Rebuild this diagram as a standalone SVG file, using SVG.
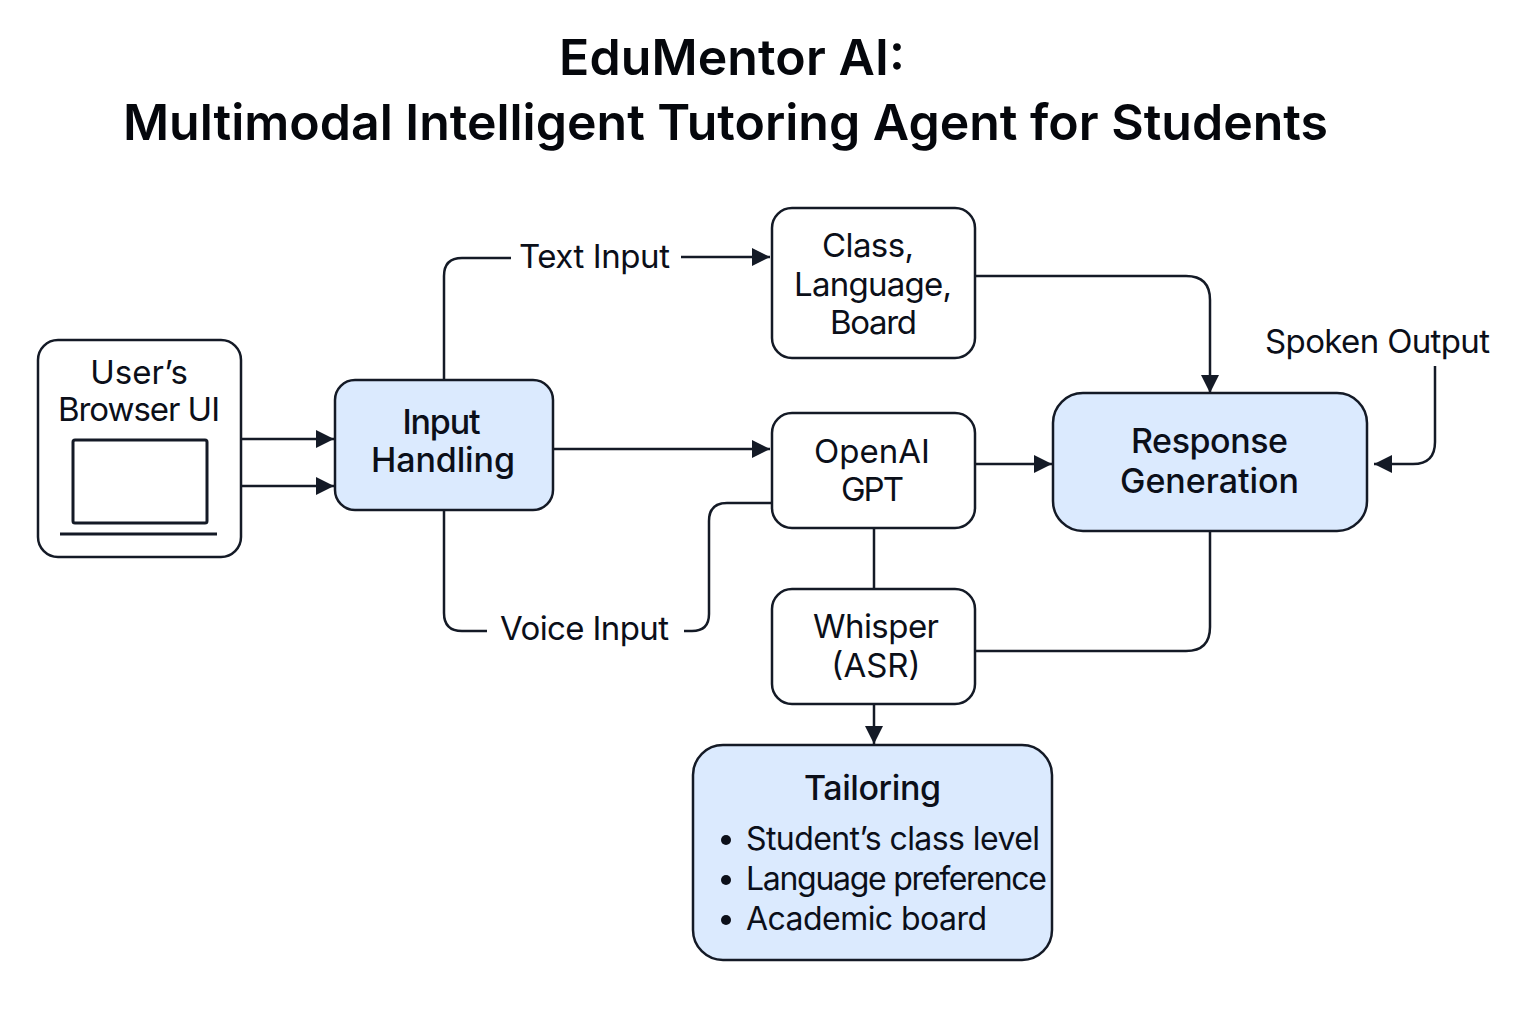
<svg xmlns="http://www.w3.org/2000/svg" width="1536" height="1024" viewBox="0 0 1536 1024">
<style>
text{font-family:Inter,"Liberation Sans",sans-serif;fill:#0b0f19;text-anchor:middle;font-size:33px;stroke:none}
.t{font-size:50px;font-weight:600;fill:#05070c}
.b{font-weight:500;font-size:34px}
.l{text-anchor:start;font-size:32px}
.n{fill:#fff;stroke:#141a26;stroke-width:2.5}
.h{fill:#dbeafe;stroke:#141a26;stroke-width:2.5}
.c{fill:none;stroke:#141a26;stroke-width:2.5}
.a{marker-end:url(#m)}
</style>
<defs><marker id="m" markerUnits="userSpaceOnUse" markerWidth="20" markerHeight="20" refX="18" refY="9" orient="auto"><path d="M0 0L18 9L0 18Z" fill="#141a26"/></marker></defs>
<rect width="1536" height="1024" fill="#fff"/>
<g id="title"><text class="t" x="732" y="75" textLength="346">EduMentor AI:</text><text class="t" x="725.5" y="140" textLength="1205">Multimodal Intelligent Tutoring Agent for Students</text></g>
<g id="connectors">
<path class="c a" d="M242 439H334"/><path class="c a" d="M242 486H334"/>
<path class="c" d="M444 380V276Q444 258 462 258H511"/><path class="c a" d="M681 257H770"/>
<path class="c a" d="M975 276H1186Q1210 276 1210 300V393"/>
<path class="c a" d="M553 449H770"/><path class="c a" d="M975 464H1052"/>
<path class="c a" d="M1435 366V442Q1435 464 1413 464H1374"/>
<path class="c" d="M444 510V613Q444 631 462 631H487"/>
<path class="c" d="M684 631H692Q709 631 709 614V521Q709 503 727 503H772"/>
<path class="c" d="M874 528V589"/><path class="c" d="M975 651H1186Q1210 651 1210 627V531"/>
<path class="c a" d="M874 704V744"/>
</g>
<g id="browser"><rect class="n" x="38" y="340" width="203" height="217" rx="20"/><text x="139" y="384">User’s</text><text x="139" y="421" textLength="162">Browser UI</text><rect x="73" y="440" width="134" height="83" rx="2" fill="#fff" stroke="#141a26" stroke-width="3"/><path class="c" d="M60 534H217" style="stroke-width:3"/></g>
<g id="input"><rect class="h" x="335" y="380" width="218" height="130" rx="20"/><text class="b" x="441.500" y="434" textLength="78">Input</text><text class="b" x="443" y="472" textLength="144">Handling</text></g>
<g id="class"><rect class="n" x="772" y="208" width="203" height="150" rx="20"/><text x="868" y="257" textLength="92">Class,</text><text x="873" y="296" textLength="158">Language,</text><text x="873.500" y="334" textLength="87">Board</text></g>
<g id="gpt"><rect class="n" x="772" y="413" width="203" height="115" rx="20"/><text x="872" y="463">OpenAI</text><text x="872.500" y="501" textLength="63">GPT</text></g>
<g id="whisper"><rect class="n" x="772" y="589" width="203" height="115" rx="20"/><text x="876" y="638" textLength="126">Whisper</text><text x="876" y="677">(ASR)</text></g>
<g id="response"><rect class="h" x="1053" y="393" width="314" height="138" rx="30"/><text class="b" x="1209.500" y="453" textLength="157">Response</text><text class="b" x="1209.500" y="493" textLength="179">Generation</text></g>
<g id="tailoring"><rect class="h" x="693" y="745" width="359" height="215" rx="30"/><text class="b" x="872.500" y="800" textLength="137">Tailoring</text>
<circle cx="726" cy="840" r="5" fill="#0b0f19"/><circle cx="726" cy="880" r="5" fill="#0b0f19"/><circle cx="726" cy="920" r="5" fill="#0b0f19"/>
<text class="l" x="746" y="850" textLength="294">Student’s class level</text><text class="l" x="746" y="890" textLength="301">Language preference</text><text class="l" x="746" y="930" textLength="241">Academic board</text></g>
<g id="labels"><text x="594.500" y="268" textLength="151">Text Input</text><text x="584.500" y="640" textLength="169">Voice Input</text><text x="1377.500" y="353" textLength="225">Spoken Output</text></g>
</svg>
